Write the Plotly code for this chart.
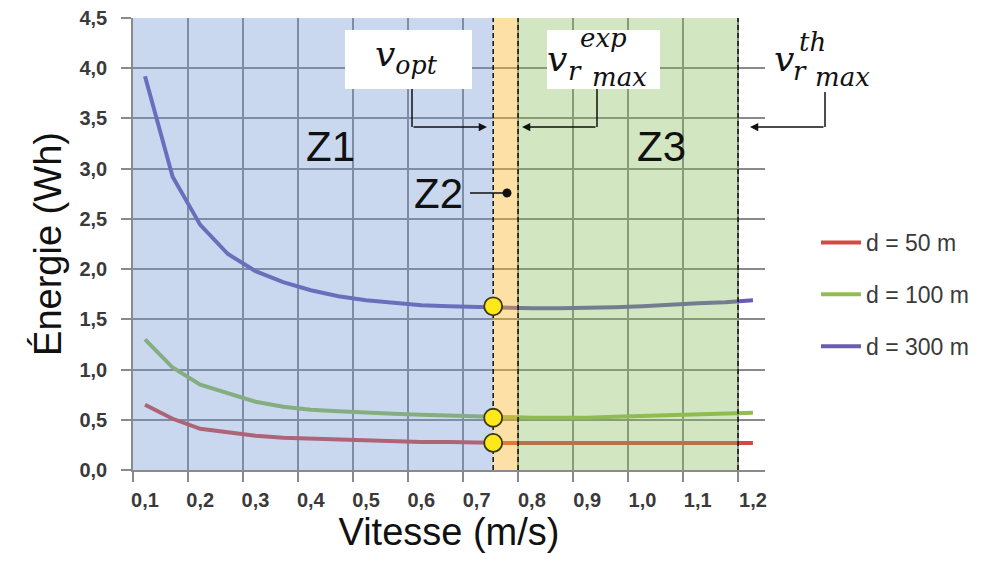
import plotly.graph_objects as go

# ---------------- data ----------------
speeds = [0.10, 0.15, 0.20, 0.25, 0.30, 0.35, 0.40, 0.45, 0.50, 0.55, 0.60, 0.65,
          0.70, 0.75, 0.80, 0.85, 0.90, 0.95, 1.00, 1.05, 1.10, 1.15, 1.20]
energy_50 = [0.65, 0.51, 0.41, 0.37, 0.34, 0.32, 0.31, 0.30, 0.29, 0.28, 0.28, 0.28,
             0.27, 0.27, 0.27, 0.27, 0.27, 0.27, 0.27, 0.27, 0.27, 0.27, 0.27]
energy_100 = [1.30, 1.02, 0.85, 0.76, 0.68, 0.63, 0.60, 0.585, 0.57, 0.56, 0.55, 0.54,
              0.53, 0.52, 0.52, 0.52, 0.52, 0.53, 0.54, 0.54, 0.55, 0.56, 0.57]
energy_300 = [3.92, 2.92, 2.44, 2.15, 1.98, 1.87, 1.79, 1.73, 1.69, 1.66, 1.64, 1.63,
              1.62, 1.62, 1.61, 1.61, 1.61, 1.62, 1.63, 1.65, 1.66, 1.67, 1.69]
series_names = ["d = 50 m", "d = 100 m", "d = 300 m"]
series_colors = ["#d24a44", "#93bd52", "#6a5cb0"]

x_tick_vals = [0.1, 0.2, 0.3, 0.4, 0.5, 0.6, 0.7, 0.8, 0.9, 1.0, 1.1, 1.2]
x_tick_labels = ["0,1", "0,2", "0,3", "0,4", "0,5", "0,6", "0,7", "0,8", "0,9", "1,0", "1,1", "1,2"]

# zone boundaries (speed) and optimum energies
V_OPT = 0.730
V_EXP = 0.775
V_TH = 1.173
opt_energy = [1.63, 0.52, 0.27]

X_MIN, X_MAX = 0.0783, 1.2218
Y_MIN, Y_MAX = 0.0, 4.5

# ---------------- layout helpers ----------------
# page offset of the figure (browser body margin)
OFF = 8
W, H = 970, 554
# plot area in page pixels
PL, PR, PT, PB = 133, 765, 18, 470


def px(x):
    return (x - PL) / (PR - PL)


def py(y):
    return (PB - y) / (PB - PT)


GRID = "#8a8a8a"
TXT = "#3a3a3a"

fig = go.Figure()

# curves
for i, (ys, name, col) in enumerate(zip([energy_50, energy_100, energy_300], series_names, series_colors)):
    fig.add_trace(go.Scatter(x=speeds, y=ys, mode="lines", name=name,
                             line=dict(color=col, width=4), legendgroup=f"g{i}"))

# translucent zones (drawn above curves, like the original overlay)
zones = [(X_MIN, V_OPT, "rgba(109,146,212,0.36)"),
         (V_OPT, V_EXP, "rgba(250,180,40,0.42)"),
         (V_EXP, V_TH, "rgba(132,186,86,0.36)")]
for a, b, c in zones:
    fig.add_trace(go.Scatter(x=[a, b, b, a, a], y=[Y_MIN, Y_MIN, Y_MAX, Y_MAX, Y_MIN],
                             mode="lines", line=dict(width=0), fill="toself",
                             fillcolor=c, hoverinfo="skip", showlegend=False))

# dashed zone limits
for v in [V_OPT, V_EXP, V_TH]:
    fig.add_trace(go.Scatter(x=[v, v], y=[Y_MIN, Y_MAX], mode="lines",
                             line=dict(color="#111111", width=1.5, dash="5px,3px"),
                             hoverinfo="skip", showlegend=False, cliponaxis=False))

# optimum markers
fig.add_trace(go.Scatter(x=[V_OPT] * len(opt_energy), y=opt_energy, mode="markers",
                         marker=dict(size=18, color="#ffe81a",
                                     line=dict(color="#3b3a10", width=1.8)),
                         showlegend=False, hoverinfo="skip"))

shapes = []
# white label boxes
shapes.append(dict(type="rect", xref="paper", yref="paper", x0=px(345), x1=px(472),
                   y0=py(89), y1=py(30), fillcolor="white", line=dict(width=0), layer="above"))
shapes.append(dict(type="rect", xref="paper", yref="paper", x0=px(547), x1=px(660),
                   y0=py(89), y1=py(30), fillcolor="white", line=dict(width=0), layer="above"))
# elbow connector verticals
for xv, ytop in [(412, 89), (597, 89), (825, 92)]:
    shapes.append(dict(type="line", xref="paper", yref="paper", x0=px(xv), x1=px(xv),
                       y0=py(ytop), y1=py(127), line=dict(color="#111111", width=1.5),
                       layer="above"))

annotations = []
SERIF = "DejaVu Serif"


def txt(x, y, text, size, family="Liberation Sans", color="#111111"):
    annotations.append(dict(xref="paper", yref="paper", x=px(x), y=py(y), text=text,
                            showarrow=False, xanchor="center", yanchor="middle",
                            font=dict(size=size, family=family, color=color)))


# v_opt
txt(406, 56, "<i>v</i><sub><i>opt</i></sub>", 36, SERIF)
# v_rmax^exp
txt(557, 58, "<i>v</i>", 36, SERIF)
txt(603, 38, "<i>exp</i>", 26, SERIF)
txt(575, 71, "<i>r</i>", 26, SERIF)
txt(619, 77, "<i>max</i>", 26, SERIF)
# v_rmax^th
txt(784, 58, "<i>v</i>", 36, SERIF)
txt(812, 42, "<i>th</i>", 26, SERIF)
txt(800, 71, "<i>r</i>", 26, SERIF)
txt(842, 77, "<i>max</i>", 26, SERIF)

# zone labels
txt(330, 146, "Z1", 42)
txt(661, 146, "Z3", 42)

# horizontal arrows
for head, tail in [(487, 412), (522, 597), (750, 825)]:
    annotations.append(dict(xref="paper", yref="paper", x=px(head), y=py(127), text="",
                            showarrow=True, ax=tail - head, ay=0, arrowhead=2, arrowsize=1.1,
                            arrowwidth=1.5, arrowcolor="#111111", standoff=0))
# Z2 with dot
annotations.append(dict(xref="paper", yref="paper", x=px(507), y=py(193), text="Z2",
                        showarrow=True, ax=438 - 507, ay=0, arrowhead=6, arrowsize=1.4,
                        arrowwidth=1.6, arrowcolor="#111111", standoff=0, startstandoff=6,
                        font=dict(size=42, family="Liberation Sans", color="#111111")))

fig.update_layout(
    width=W, height=H,
    margin=dict(l=PL - OFF, r=W - (PR - OFF), t=PT - OFF, b=H - (PB - OFF), autoexpand=False),
    paper_bgcolor="white", plot_bgcolor="white",
    separators=", ",
    shapes=shapes, annotations=annotations,
    showlegend=True,
    legend=dict(x=px(816), y=py(221), xanchor="left", yanchor="top",
                traceorder="grouped", tracegroupgap=19, bgcolor="rgba(0,0,0,0)",
                itemwidth=40,
                font=dict(size=23, family="Liberation Sans", color=TXT)),
    xaxis=dict(range=[X_MIN, X_MAX], tickmode="array", tickvals=x_tick_vals,
               ticktext=x_tick_labels, showgrid=False, ticks="", zeroline=False,
               automargin=False, ticklabeloverflow="allow",
               showline=True, linecolor=GRID, linewidth=1.5, ticklabelstandoff=11,
               tickfont=dict(size=20, family="Liberation Sans", color=TXT, weight="bold"),
               minor=dict(tickmode="linear", tick0=X_MIN, dtick=0.0995, showgrid=True,
                          gridcolor=GRID, gridwidth=1.5, ticks="outside", ticklen=10,
                          tickcolor=GRID, tickwidth=1.5),
               title=dict(text="Vitesse (m/s)", standoff=8,
                          font=dict(size=38, family="Liberation Sans", color="#111111"))),
    yaxis=dict(range=[Y_MIN, Y_MAX], tick0=0, dtick=0.5, tickformat=".1f",
               showgrid=True, gridcolor=GRID, gridwidth=1.5, zeroline=False,
               automargin=False, ticklabeloverflow="allow",
               showline=True, linecolor=GRID, linewidth=1.5,
               ticks="outside", ticklen=10, tickcolor=GRID, tickwidth=1.5,
               ticklabelstandoff=10,
               tickfont=dict(size=20, family="Liberation Sans", color=TXT, weight="bold"),
               title=dict(text="Énergie (Wh)", standoff=6,
                          font=dict(size=38, family="Liberation Sans", color="#111111"))),
)

fig.write_html("out.html")
